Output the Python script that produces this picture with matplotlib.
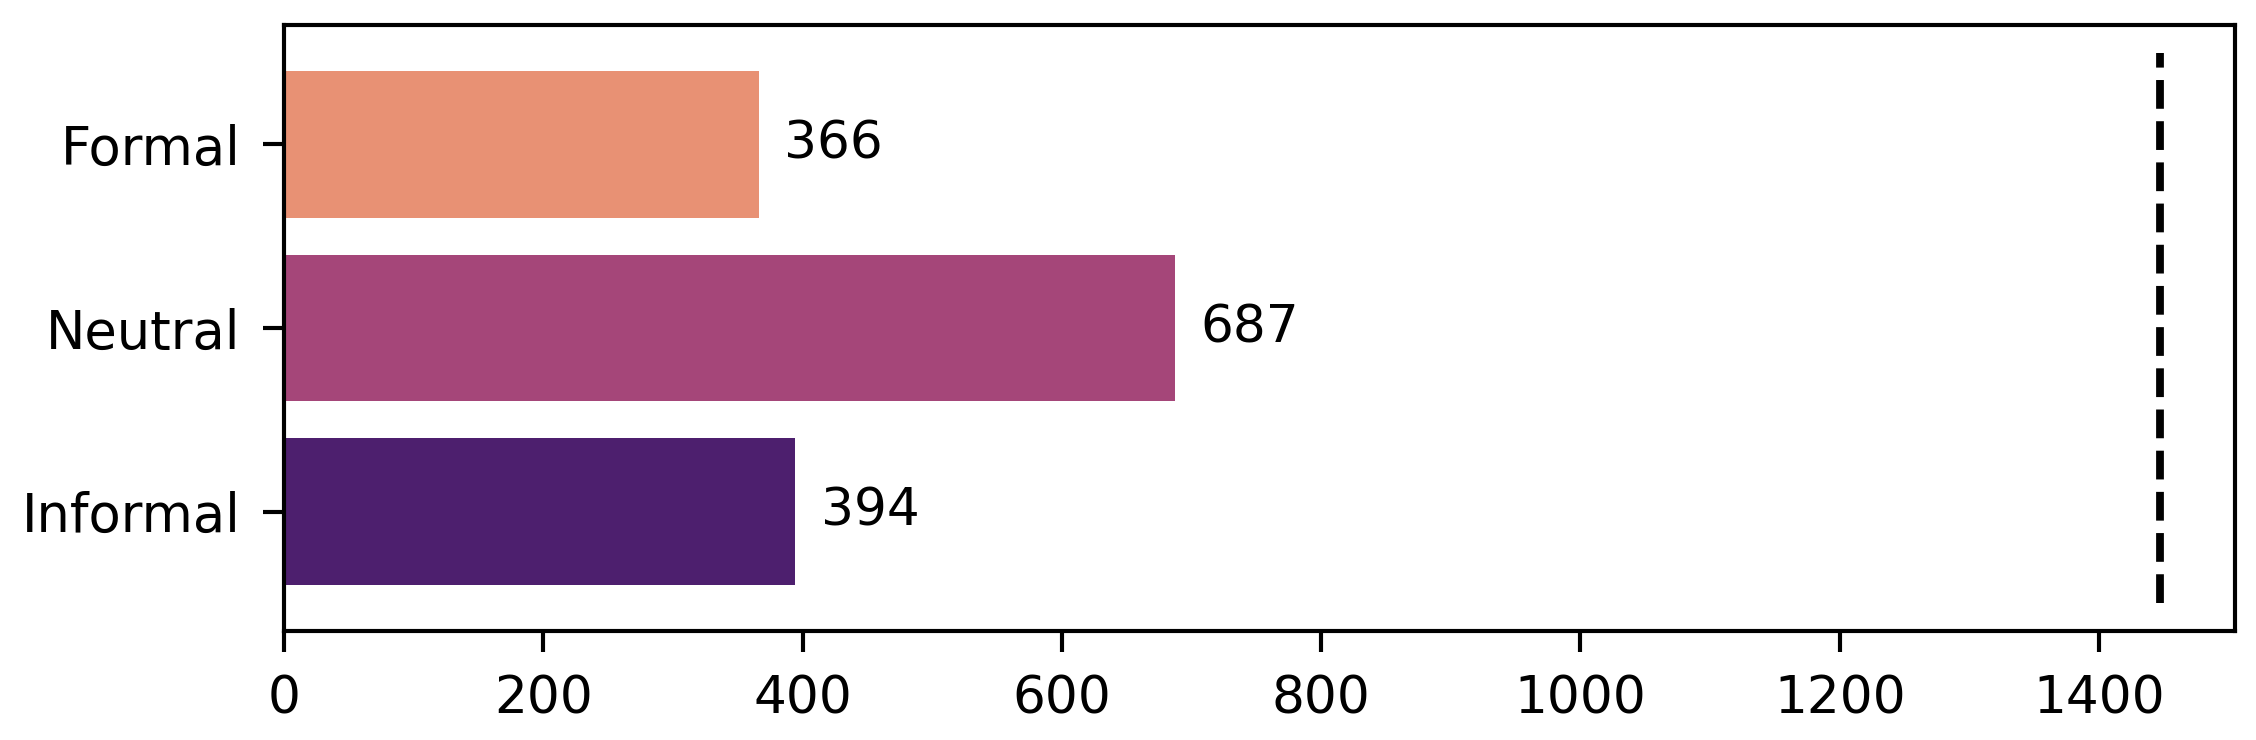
import numpy as np
import matplotlib
matplotlib.use("Agg")
import matplotlib.pyplot as plt
import seaborn as sns

# category counts (top to bottom)
categories = ['Formal', 'Neutral', 'Informal']
counts = [366, 687, 394]
total = sum(counts)

# magma colours, desaturated like seaborn bars
colors = [sns.desaturate(c, 0.75) for c in sns.color_palette('magma_r', 3)]

s = 373 / 300  # scale factor vs. the original render
plt.rcParams['font.family'] = 'DejaVu Sans'
plt.rcParams['font.size'] = 10 * s

fig, ax = plt.subplots(figsize=(7.52, 2.4667), dpi=300)
fig.subplots_adjust(left=0.1259, right=0.9907, top=0.9662, bottom=0.1473)

ypos = np.arange(len(categories))[::-1]
ax.barh(ypos, counts, height=0.8, color=colors)
for y, v in zip(ypos, counts):
    ax.text(v + 20, y, str(v), va='center', fontsize=10 * s)

ax.vlines(total, -0.5, 2.5, colors='black', linestyles='--', linewidth=1.5 * s)

ax.set_yticks(ypos)
ax.set_yticklabels(categories, fontsize=10.2 * s)
ax.set_xlim(0, total * 1.04)
ax.set_ylim(-0.65, 2.65)
ax.set_xticks(np.arange(0, 1401, 200))

for sp in ax.spines.values():
    sp.set_linewidth(0.8 * s)
ax.tick_params(length=5, width=0.8 * s, pad=5.5)
ax.tick_params(axis='x', labelsize=10 * s)

plt.savefig('out.png', dpi=300)
